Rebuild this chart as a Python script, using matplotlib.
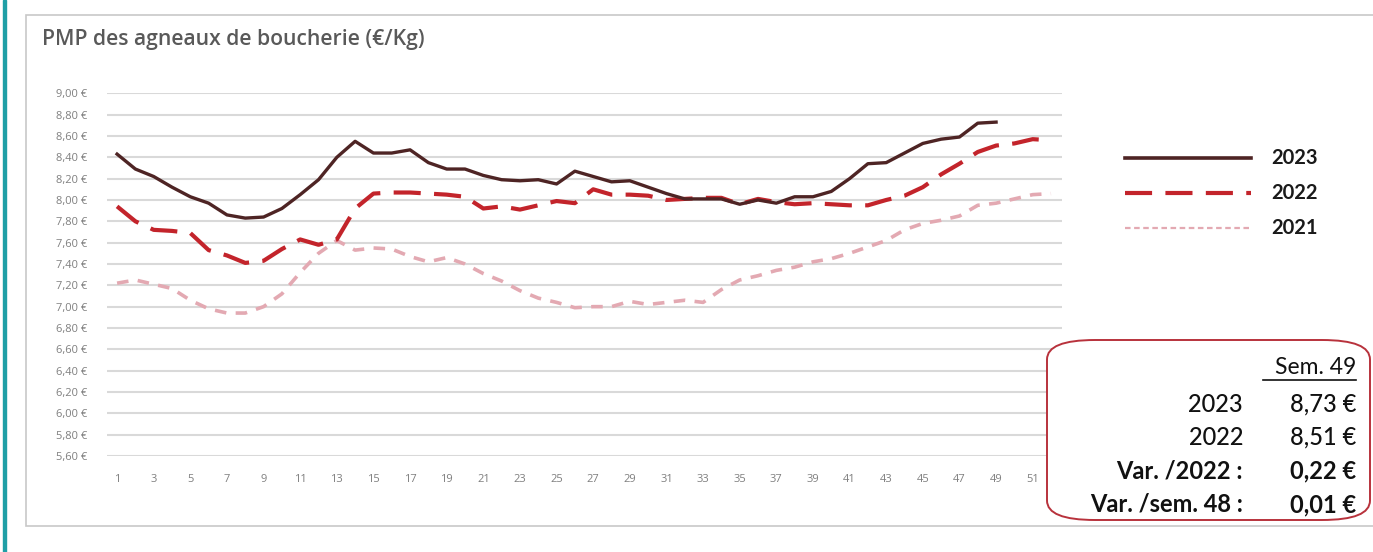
import matplotlib
matplotlib.use("Agg")
import matplotlib.pyplot as plt
from matplotlib.patches import FancyBboxPatch, Rectangle
from matplotlib.lines import Line2D

# Weekly average price of slaughter lambs (EUR/kg)
weeks_2023 = list(range(1, 50))
prix_2023 = [8.43, 8.29, 8.22, 8.12, 8.03, 7.97, 7.86, 7.83, 7.84, 7.92,
             8.05, 8.19, 8.40, 8.55, 8.44, 8.44, 8.47, 8.35, 8.29, 8.29,
             8.23, 8.19, 8.18, 8.19, 8.15, 8.27, 8.22, 8.17, 8.18, 8.12,
             8.06, 8.01, 8.01, 8.01, 7.96, 8.00, 7.97, 8.03, 8.03, 8.08,
             8.20, 8.34, 8.35, 8.44, 8.53, 8.57, 8.59, 8.72, 8.73]

weeks_2022 = list(range(1, 53))
prix_2022 = [7.94, 7.80, 7.72, 7.71, 7.69, 7.53, 7.48, 7.41, 7.43, 7.54,
             7.63, 7.58, 7.63, 7.92, 8.06, 8.07, 8.07, 8.06, 8.05, 8.03,
             7.92, 7.94, 7.91, 7.95, 7.99, 7.97, 8.10, 8.05, 8.05, 8.04,
             8.00, 8.01, 8.02, 8.02, 7.96, 8.01, 7.98, 7.96, 7.97, 7.96,
             7.95, 7.95, 8.00, 8.04, 8.12, 8.24, 8.34, 8.45, 8.51, 8.53,
             8.57, 8.56]

weeks_2021 = list(range(1, 53))
prix_2021 = [7.22, 7.25, 7.21, 7.17, 7.06, 6.98, 6.94, 6.94, 7.00, 7.12,
             7.32, 7.50, 7.62, 7.53, 7.55, 7.54, 7.47, 7.42, 7.46, 7.40,
             7.31, 7.24, 7.15, 7.08, 7.04, 6.99, 7.00, 7.00, 7.05, 7.02,
             7.04, 7.06, 7.04, 7.16, 7.25, 7.29, 7.34, 7.37, 7.42, 7.45,
             7.50, 7.56, 7.62, 7.72, 7.78, 7.81, 7.85, 7.95, 7.97, 8.01,
             8.05, 8.06]

y_ticks = [5.6 + 0.2 * i for i in range(18)]
x_ticks = list(range(1, 52, 2))

summary_labels = ["2023", "2022", "Var. /2022 :", "Var. /sem. 48 :"]
summary_values = ["8,73 €", "8,51 €", "0,22 €", "0,01 €"]
summary_bold = [False, False, True, True]

C2023 = "#4e2424"
C2022 = "#c3242b"
C2021 = "#e3a9b2"
GRID = "#d9d9d9"

fig = plt.figure(figsize=(13.73, 5.52), dpi=100)
W, H = 1373, 552

def fx(px):
    return px / W

def fy(py):
    return 1 - py / H

# page frame: teal rule and the light card
fig.patches.append(Rectangle((fx(3), 0), fx(3), 1, transform=fig.transFigure,
                             color="#1f9fa6", zorder=-2))
fig.patches.append(Rectangle((fx(26), fy(526)), fx(1400 - 26), fy(15) - fy(526),
                             transform=fig.transFigure, facecolor="white",
                             edgecolor="#c8c8c8", lw=1.2, zorder=-2))

fig.text(fx(42), fy(40), "PMP des agneaux de boucherie (€/Kg)",
         fontsize=15.2, fontweight="semibold", color="#595959",
         family="Open Sans", va="center", ha="left")

ax = fig.add_axes([fx(107), fy(456), fx(1062 - 107), fy(93.3) - fy(456)])
ax.patch.set_alpha(0)
ax.set_xlim(0.45, 52.6)
ax.set_ylim(5.6, 9.0)
for s in ax.spines.values():
    s.set_visible(False)
ax.set_yticks(y_ticks)
ax.set_yticklabels([f"{v:.2f} €".replace(".", ",") for v in y_ticks],
                   fontsize=8, color="#7f7f7f", family="Open Sans")
ax.set_xticks(x_ticks)
ax.set_xticklabels([str(v) for v in x_ticks], fontsize=8, color="#7f7f7f",
                   family="Open Sans")
ax.tick_params(axis="both", length=0)
ax.tick_params(axis="y", pad=14)
ax.tick_params(axis="x", pad=13)
ax.grid(axis="y", color=GRID, lw=1.5)
ax.set_axisbelow(True)

ax.plot(weeks_2021, prix_2021, color=C2021, lw=2.6, dashes=(3.2, 2.6),
        dash_capstyle="butt")
ax.plot(weeks_2022, prix_2022, color=C2022, lw=3.0, dashes=(6.5, 3.2),
        dash_capstyle="butt")
ax.plot(weeks_2023, prix_2023, color=C2023, lw=2.4)

# legend drawn beside the plot
legend_items = [("2023", C2023, dict(lw=2.6)),
                ("2022", C2022, dict(lw=3.0, dashes=(6.5, 3.2))),
                ("2021", C2021, dict(lw=1.6, dashes=(2.5, 1.6)))]
for i, (lab, col, kw) in enumerate(legend_items):
    yy = fy(158 + 35 * i)
    fig.add_artist(Line2D([fx(1125), fx(1251)], [yy, yy], color=col,
                          transform=fig.transFigure, **kw))
    fig.text(fx(1271), yy, lab, fontsize=14.5, fontweight="bold",
             color="#1a1a1a", va="center", ha="left", family="Lato")

# summary box
box = FancyBboxPatch((fx(1047), fy(520)), fx(1370 - 1047), fy(340) - fy(520),
                     boxstyle="round,pad=0,rounding_size=0.035",
                     transform=fig.transFigure, facecolor="white",
                     edgecolor="#b8323c", lw=1.4, mutation_aspect=H / W * 2.5)
fig.patches.append(box)
fig.text(fx(1356), fy(368), "Sem. 49", fontsize=16.5, color="#111111",
         ha="right", va="center", family="Lato")
fig.add_artist(Line2D([fx(1263), fx(1356)], [fy(380), fy(380)],
                      color="#111111", lw=1.2, transform=fig.transFigure))
for i, (lab, val, b) in enumerate(zip(summary_labels, summary_values, summary_bold)):
    yy = fy(404 + 33.5 * i)
    w = "bold" if b else "medium"
    fig.text(fx(1243), yy, lab, fontsize=17, fontweight=w, color="#111111",
             ha="right", va="center", family="Lato")
    fig.text(fx(1356), yy, val, fontsize=17, fontweight=w, color="#111111",
             ha="right", va="center", family="Lato")

fig.savefig("out.png", dpi=100)
